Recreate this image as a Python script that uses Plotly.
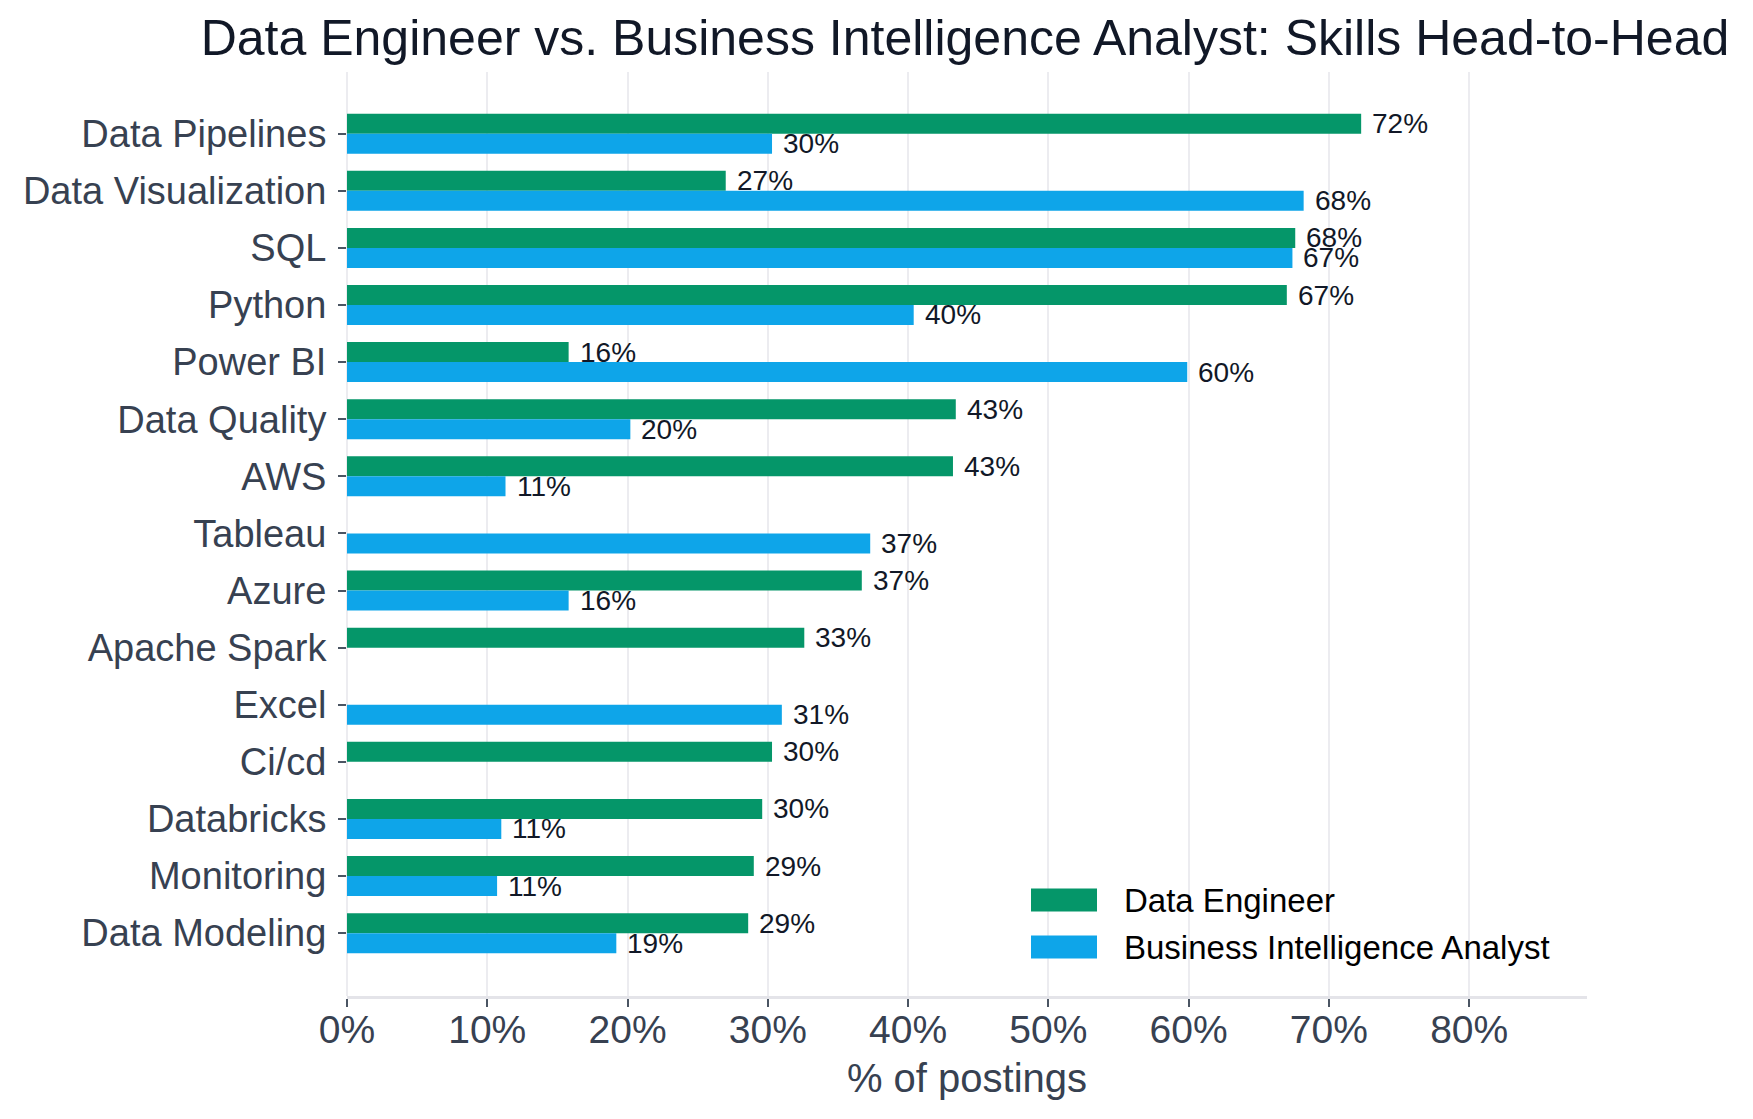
import plotly.graph_objects as go

skills = ["Data Pipelines", "Data Visualization", "SQL", "Python", "Power BI",
          "Data Quality", "AWS", "Tableau", "Azure", "Apache Spark", "Excel",
          "Ci/cd", "Databricks", "Monitoring", "Data Modeling"]
data_engineer = [72.3, 27.0, 67.6, 67.0, 15.8, 43.4, 43.2, None, 36.7, 32.6,
                 None, 30.3, 29.6, 29.0, 28.6]
bi_analyst = [30.3, 68.2, 67.4, 40.4, 59.9, 20.2, 11.3, 37.3, 15.8, None,
              31.0, None, 11.0, 10.7, 19.2]
series_names = ["Data Engineer", "Business Intelligence Analyst"]
x_ticks = [0, 10, 20, 30, 40, 50, 60, 70, 80]

GREEN = "#059669"
BLUE = "#0EA5E9"
FONT = "Liberation Sans, Arial, sans-serif"

W, H = 1753, 1119
L, R, T, B = 347, 166, 72, 123
plot_w = W - L - R
plot_h = H - T - B

fig = go.Figure()
fig.add_trace(go.Bar(y=skills, x=data_engineer, orientation="h", name=series_names[0],
                     marker=dict(color=GREEN, line=dict(width=0)), showlegend=False))
fig.add_trace(go.Bar(y=skills, x=bi_analyst, orientation="h", name=series_names[1],
                     marker=dict(color=BLUE, line=dict(width=0)), showlegend=False))

annotations = []
for i, (a, b) in enumerate(zip(data_engineer, bi_analyst)):
    for v, off in ((a, -0.175), (b, 0.175)):
        if v is None:
            continue
        annotations.append(dict(x=v, y=i + off, xref="x", yref="y",
                                text=f"{int(v + 0.5)}%", showarrow=False,
                                xanchor="left", yanchor="middle", xshift=9,
                                font=dict(family=FONT, size=28, color="#111827")))

# legend (drawn manually to match swatch shape)
def px_to_paper_x(px):
    return (px - L) / plot_w

def px_to_paper_y(py):
    return (H - B - py) / plot_h

shapes = []
for name, color, cy in ((series_names[0], GREEN, 900), (series_names[1], BLUE, 947)):
    shapes.append(dict(type="rect", xref="paper", yref="paper",
                       x0=px_to_paper_x(1031), x1=px_to_paper_x(1097),
                       y0=px_to_paper_y(cy - 11.5), y1=px_to_paper_y(cy + 11.5),
                       fillcolor=color, line=dict(width=0), layer="above"))
    annotations.append(dict(x=px_to_paper_x(1122), y=px_to_paper_y(cy), xref="paper",
                            yref="paper", text=name, showarrow=False,
                            xanchor="left", yanchor="middle",
                            font=dict(family=FONT, size=33, color="#000000")))

fig.update_layout(
    width=W, height=H,
    margin=dict(l=L, r=R, t=T, b=B, pad=0),
    paper_bgcolor="white", plot_bgcolor="white",
    barmode="group", bargap=0.3, bargroupgap=0,
    title=dict(text="Data Engineer vs. Business Intelligence Analyst: Skills Head-to-Head",
               x=965 / W, xanchor="center", xref="container",
               y=1 - 37 / H, yanchor="middle", yref="container",
               font=dict(family=FONT, size=50, color="#111827")),
    font=dict(family=FONT, color="#374151"),
    annotations=annotations,
    shapes=shapes,
    showlegend=False,
)

fig.update_xaxes(
    range=[0, 88.4], tickvals=x_ticks, ticktext=[f"{t}%" for t in x_ticks],
    showgrid=True, gridcolor="#ececf0", gridwidth=2,
    zeroline=True, zerolinecolor="#ececf0", zerolinewidth=2,
    showline=True, linecolor="#e4e4e9", linewidth=3,
    ticks="outside", ticklen=8, tickwidth=1.5, tickcolor="#4b5563",
    tickfont=dict(family=FONT, size=39, color="#374151"),
    ticklabelstandoff=-11,
    title=dict(text="% of postings", standoff=15,
               font=dict(family=FONT, size=40, color="#374151")),
    automargin=False,
)
fig.update_yaxes(
    type="category", categoryorder="array", categoryarray=skills,
    range=[15.1, -1.08],
    showgrid=False, zeroline=False, showline=False,
    ticks="outside", ticklen=8, tickwidth=1.5, tickcolor="#4b5563",
    tickfont=dict(family=FONT, size=38, color="#374151"),
    ticklabelstandoff=4,
    automargin=False,
)

fig.write_html("out.html")
